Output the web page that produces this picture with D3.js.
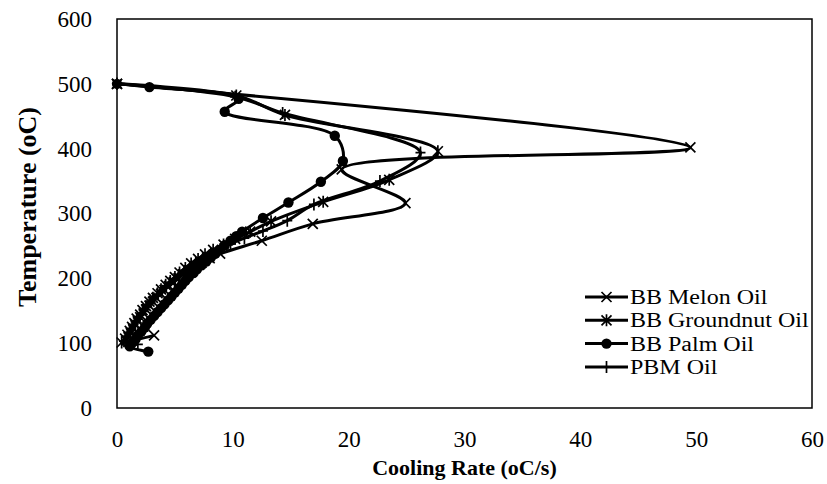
<!DOCTYPE html>
<html><head><meta charset="utf-8">
<script src="https://cdn.jsdelivr.net/npm/d3@7"></script>
<style>body{margin:0;background:#fff}svg{display:block}text{font-family:"Liberation Serif","Times New Roman",serif;fill:#000}</style>
</head><body><svg id="c" width="827" height="484"></svg>
<script>
const seriesNames = ["BB Melon Oil","BB Groundnut Oil","BB Palm Oil","PBM Oil"];
const markers = ["x","star","circle","plus"];
const xTicks = [0,10,20,30,40,50,60];
const yTicks = [0,100,200,300,400,500,600];
const melon = [[0,500],[49.5,402],[19.4,368],[24.9,316],[16.9,284],[12.5,258],[8.9,238],[8.0,231],[7.3,224],[6.7,218],[6.2,212],[5.7,206],[5.3,200],[4.9,194],[4.5,188],[4.1,182],[3.8,176],[3.4,170],[3.1,164],[2.8,158],[2.5,152],[2.3,146],[2.0,140],[1.8,134],[1.6,128],[1.4,122],[1.2,116],[1.0,110],[0.8,104],[3.2,112]];
const groundnut = [[0,500],[10.3,482],[14.5,452],[27.7,396],[23.5,352],[17.8,318],[13.3,288],[11.5,272],[10.2,261],[9.2,252],[8.3,244],[7.6,237],[7.0,230],[6.4,223],[5.9,216],[5.4,209],[5.0,202],[4.6,196],[4.2,190],[3.8,183],[3.5,177],[3.1,170],[2.8,164],[2.5,157],[2.2,151],[2.0,144],[1.7,138],[1.5,131],[1.3,125],[1.1,119],[0.9,113],[0.7,107],[0.4,101]];
const palm = [[0,500],[2.8,495],[10.5,477],[9.3,457],[18.8,420],[19.5,381],[17.6,349],[14.8,317],[12.6,293],[10.8,272],[10.3,265],[9.8,258],[9.3,251],[8.9,244],[8.5,238],[8.1,232],[7.7,226],[7.3,220],[6.9,214],[6.6,208],[6.2,202],[5.9,196],[5.6,190],[5.3,184],[5.0,178],[4.7,172],[4.4,166],[4.1,160],[3.8,154],[3.5,148],[3.2,142],[2.9,136],[2.6,130],[2.4,124],[2.1,118],[1.8,112],[1.6,106],[1.3,100],[1.1,95],[2.7,87]];
const pbm = [[0,500],[10.2,480],[14.3,455],[26.2,394],[22.7,350],[17.0,314],[14.7,289],[12.6,273],[11.0,262],[9.8,253],[8.9,245],[8.1,238],[7.4,231],[6.8,224],[6.3,218],[5.8,211],[5.4,205],[5.0,199],[4.6,193],[4.2,187],[3.9,181],[3.5,175],[3.2,169],[2.9,163],[2.6,157],[2.3,151],[2.1,145],[1.8,139],[1.6,133],[1.4,127],[1.2,121],[1.0,115],[0.8,109],[0.6,103],[1.8,98]];
const allSeries = [melon, groundnut, palm, pbm];

const svg = d3.select("#c");
const L=117, R=812, T=19, B=408;
const x = d3.scaleLinear().domain([0,60]).range([L,R]);
const y = d3.scaleLinear().domain([0,600]).range([B,T]);

svg.append("rect").attr("x",L).attr("y",T).attr("width",R-L).attr("height",B-T)
  .attr("fill","none").attr("stroke","#000").attr("stroke-width",1.5);

const gx = svg.append("g").attr("transform",`translate(0,${B})`)
  .call(d3.axisBottom(x).tickValues(xTicks).tickSize(0).tickPadding(23));
gx.select(".domain").remove();
gx.selectAll("text").attr("font-size",23).attr("font-family","Liberation Serif");
const gy = svg.append("g").attr("transform",`translate(${L},0)`)
  .call(d3.axisLeft(y).tickValues(yTicks).tickSize(0).tickPadding(25));
gy.select(".domain").remove();
gy.selectAll("text").attr("font-size",23).attr("font-family","Liberation Serif");

svg.append("text").attr("x",(L+R)/2).attr("y",475).attr("text-anchor","middle")
  .attr("font-size",22).attr("font-weight","bold").text("Cooling Rate (oC/s)");
svg.append("text").attr("transform",`translate(36,207) rotate(-90)`)
  .attr("text-anchor","middle").attr("font-size",26).attr("font-weight","bold").text("Temperature (oC)");

const line = d3.line().x(d=>x(d[0])).y(d=>y(d[1])).curve(d3.curveCatmullRom.alpha(0.5));

function drawMarker(g, type, cx, cy){
  const s=5;
  if(type==="circle"){
    g.append("circle").attr("cx",cx).attr("cy",cy).attr("r",5.2).attr("fill","#000");
  } else {
    const p = d3.path();
    if(type==="x"||type==="star"){ p.moveTo(cx-s,cy-s);p.lineTo(cx+s,cy+s);p.moveTo(cx-s,cy+s);p.lineTo(cx+s,cy-s); }
    if(type==="star"||type==="plus"){ p.moveTo(cx,cy-s-1);p.lineTo(cx,cy+s+1); }
    if(type==="plus"){ p.moveTo(cx-s,cy);p.lineTo(cx+s,cy); }
    g.append("path").attr("d",p.toString()).attr("stroke","#000").attr("stroke-width",1.7).attr("fill","none");
  }
}

const plot = svg.append("g");
allSeries.forEach((data,i)=>{
  plot.append("path").attr("d",line(data)).attr("fill","none").attr("stroke","#000").attr("stroke-width",3);
  const mg = plot.append("g");
  data.forEach(d=>drawMarker(mg, markers[i], x(d[0]), y(d[1])));
});

const leg = svg.append("g");
seriesNames.forEach((n,i)=>{
  const ly = 297 + i*23.3;
  leg.append("line").attr("x1",585).attr("x2",628).attr("y1",ly).attr("y2",ly).attr("stroke","#000").attr("stroke-width",3);
  drawMarker(leg, markers[i], 606.5, ly);
  const t = leg.append("text").attr("x",630).attr("y",ly+7).attr("font-size",20).text(n);
  const w = t.node().getComputedTextLength();
  t.attr("textLength", w*1.2).attr("lengthAdjust","spacingAndGlyphs");
});
</script></body></html>
